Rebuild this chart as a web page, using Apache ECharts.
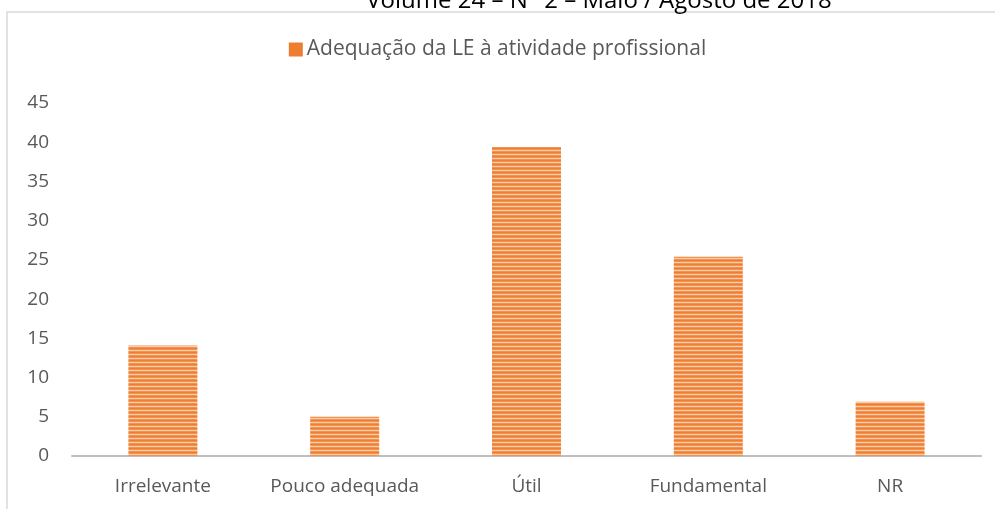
<!DOCTYPE html>
<html>
<head>
<meta charset="utf-8">
<script src="https://cdn.jsdelivr.net/npm/echarts@6/dist/echarts.min.js"></script>
<style>
  html, body { margin: 0; padding: 0; background: #fff; }
  #chart { width: 995px; height: 509px; }
</style>
</head>
<body>
<div id="chart"></div>
<script>
const categories = ["Irrelevante", "Pouco adequada", "Útil", "Fundamental", "NR"];
const values = [14.1, 5, 39.4, 25.4, 6.9];
const seriesName = "Adequação da LE à atividade profissional";
const pageHeader = "Volume 24 – N° 2 – Maio / Agosto de 2018";

// narrow horizontal stripes, like the excel pattern fill
function stripes() {
  const c = document.createElement("canvas");
  c.width = 4;
  c.height = 4;
  const ctx = c.getContext("2d");
  const rows = ["#ED7D31", "#F29352", "#F9CDAA", "#F29352"];
  rows.forEach((col, i) => {
    ctx.fillStyle = col;
    ctx.fillRect(0, i, 4, 1);
  });
  return c;
}

const chart = echarts.init(document.getElementById("chart"), null, { renderer: "canvas" });
const font = "Open Sans";

chart.setOption({
  animation: false,
  textStyle: { fontFamily: font },
  graphic: [
    {
      type: "rect",
      shape: { x: 7, y: 12, width: 1000, height: 520 },
      style: { fill: "none", stroke: "#d9d9d9", lineWidth: 1.5 },
      silent: true
    },
    {
      type: "text",
      x: 599,
      y: 13,
      style: {
        text: pageHeader,
        fontFamily: font,
        fontSize: 24,
        fill: "#000",
        align: "center",
        verticalAlign: "bottom"
      },
      silent: true
    }
  ],
  legend: {
    top: 34,
    left: "center",
    itemWidth: 14,
    itemHeight: 14,
    itemGap: 4,
    textStyle: { fontSize: 21, color: "#595959", fontFamily: font, padding: [0, 0, 0, -1] },
    data: [{ name: seriesName, icon: "rect", itemStyle: { color: "#ED7D31" } }]
  },
  grid: { left: 72, right: 14, top: 103, bottom: 53 },
  xAxis: {
    type: "category",
    data: categories,
    axisLine: { lineStyle: { color: "#bfbfbf", width: 2 } },
    axisTick: { show: false },
    axisLabel: { color: "#595959", fontSize: 19, margin: 21, interval: 0, fontFamily: font }
  },
  yAxis: {
    type: "value",
    min: 0,
    max: 45,
    interval: 5,
    axisLine: { show: false },
    axisTick: { show: false },
    splitLine: { show: false },
    axisLabel: { color: "#595959", fontSize: 19, margin: 23, fontFamily: font }
  },
  series: [
    {
      name: seriesName,
      type: "bar",
      data: values,
      barWidth: 69,
      itemStyle: {
        color: { image: stripes(), repeat: "repeat" }
      }
    }
  ]
});
</script>
</body>
</html>
